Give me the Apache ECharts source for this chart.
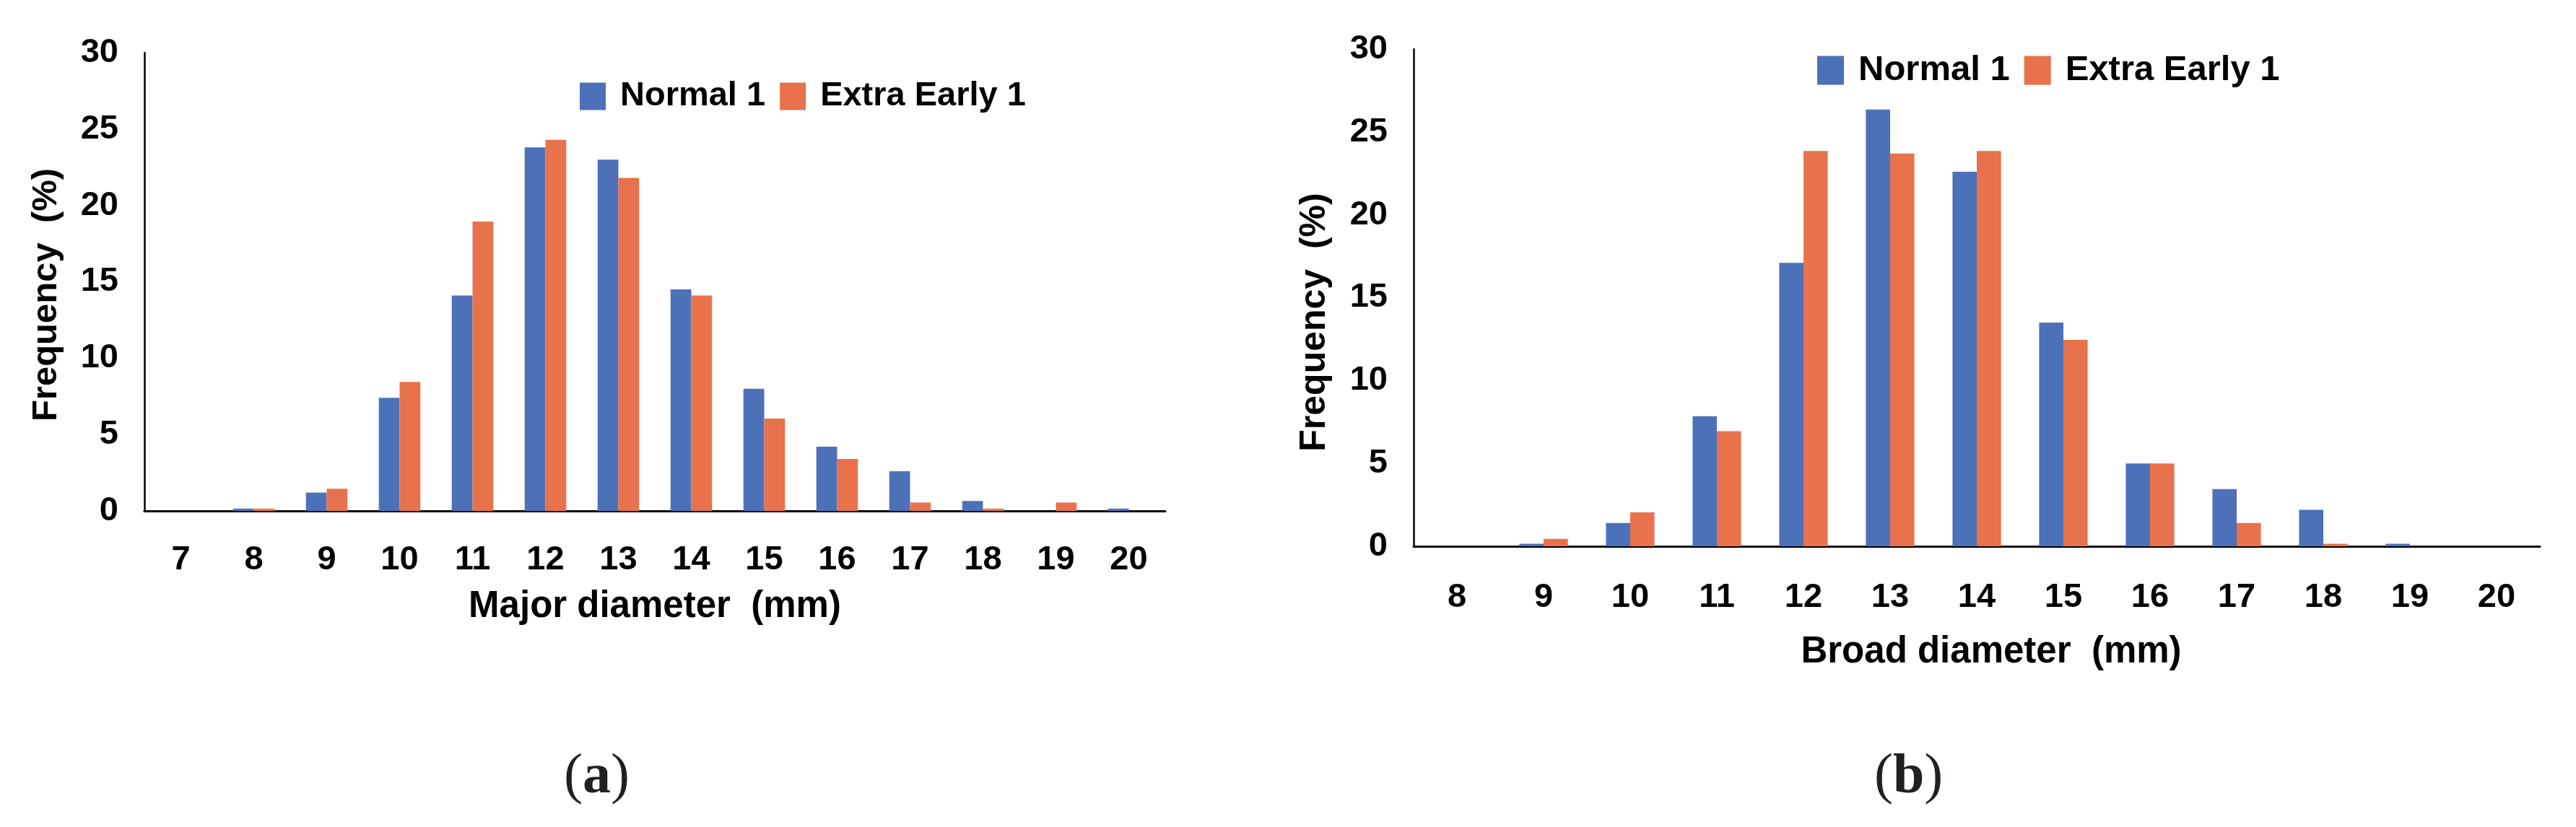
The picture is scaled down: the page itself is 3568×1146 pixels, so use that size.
<!DOCTYPE html>
<html>
<head>
<meta charset="utf-8">
<script src="https://cdn.jsdelivr.net/npm/echarts@6/dist/echarts.min.js"></script>
<style>
html, body { margin: 0; padding: 0; background: #fff; }
#chart { width: 3568px; height: 1146px; }
</style>
</head>
<body>
<div id="chart"></div>
<script>
// Panel (a): Major diameter
const categoriesA = ['7', '8', '9', '10', '11', '12', '13', '14', '15', '16', '17', '18', '19', '20'];
const normalA = [0, 0.15, 1.2, 7.4, 14.1, 23.8, 23.0, 14.5, 8.0, 4.2, 2.6, 0.65, 0, 0.15];
const earlyA  = [0, 0.15, 1.45, 8.45, 18.95, 24.3, 21.8, 14.1, 6.05, 3.4, 0.55, 0.15, 0.55, 0];

// Panel (b): Broad diameter
const categoriesB = ['8', '9', '10', '11', '12', '13', '14', '15', '16', '17', '18', '19', '20'];
const normalB = [0, 0.15, 1.4, 7.85, 17.1, 26.35, 22.6, 13.5, 5.0, 3.45, 2.2, 0.15, 0];
const earlyB  = [0, 0.45, 2.05, 6.95, 23.85, 23.7, 23.85, 12.45, 5.0, 1.4, 0.15, 0, 0];

const seriesNames = ['Normal 1', 'Extra Early 1'];
const xNames = ['Major diameter  (mm)', 'Broad diameter  (mm)'];
const yName = 'Frequency  (%)';
const captions = ['a', 'b'];

const BLUE = '#4D71B8';
const ORANGE = '#E8724C';
const FONT = '"Liberation Sans", Arial, sans-serif';

const chart = echarts.init(document.getElementById('chart'), null, { renderer: 'canvas' });

function xAxisCfg(idx, cats, name, labelMargin, nameGap, namePad) {
  return {
    type: 'category', gridIndex: idx, data: cats,
    name: name, nameLocation: 'middle', nameGap: nameGap,
    nameTextStyle: { fontFamily: FONT, fontWeight: 'bold', fontSize: 51, color: '#000', padding: namePad },
    axisLine: { show: true, lineStyle: { color: '#000', width: 3 } },
    axisTick: { show: false },
    axisLabel: { fontFamily: FONT, fontWeight: 'bold', fontSize: 47, color: '#000', margin: labelMargin, interval: 0 },
    splitLine: { show: false }
  };
}
function yAxisCfg(idx, nameGap, nameSize, namePad) {
  return {
    type: 'value', gridIndex: idx, min: 0, max: 30, interval: 5,
    name: yName, nameLocation: 'middle', nameGap: nameGap, nameRotate: 90,
    nameTextStyle: { fontFamily: FONT, fontWeight: 'bold', fontSize: nameSize, color: '#000', padding: namePad },
    axisLine: { show: true, lineStyle: { color: '#000', width: 2.5 } },
    axisTick: { show: false },
    axisLabel: { fontFamily: FONT, fontWeight: 'bold', fontSize: 47, color: '#000', margin: 36 },
    splitLine: { show: false }
  };
}

const option = {
  backgroundColor: '#fff',
  animation: false,
  color: [BLUE, ORANGE],
  grid: [
    { left: 200, top: 73, width: 1414, height: 635 },
    { left: 1958, top: 68, width: 1560, height: 689 }
  ],
  legend: [
    {
      data: seriesNames, left: 798, top: 105, orient: 'horizontal',
      itemWidth: 36, itemHeight: 38, itemGap: 20, icon: 'rect',
      textStyle: { fontFamily: FONT, fontWeight: 'bold', fontSize: 47, color: '#000', padding: [0, 0, 0, 15] }
    },
    {
      data: seriesNames, left: 2512, top: 68, orient: 'horizontal',
      itemWidth: 37, itemHeight: 40, itemGap: 20, icon: 'rect',
      textStyle: { fontFamily: FONT, fontWeight: 'bold', fontSize: 49, color: '#000', padding: [0, 0, 0, 15] }
    }
  ],
  xAxis: [
    xAxisCfg(0, categoriesA, xNames[0], 45, 107, [0, 0, 0, 0]),
    xAxisCfg(1, categoriesB, xNames[1], 48, 121, [0, 0, 0, 40])
  ],
  yAxis: [
    yAxisCfg(0, 111, 49, [0, 36, 0, 0]),
    yAxisCfg(1, 112, 50, [0, 68, 0, 0])
  ],
  series: [
    { name: seriesNames[0], type: 'bar', xAxisIndex: 0, yAxisIndex: 0, data: normalA,
      itemStyle: { color: BLUE }, barGap: '0%', barCategoryGap: '43%' },
    { name: seriesNames[1], type: 'bar', xAxisIndex: 0, yAxisIndex: 0, data: earlyA,
      itemStyle: { color: ORANGE }, barGap: '0%', barCategoryGap: '43%' },
    { name: seriesNames[0], type: 'bar', xAxisIndex: 1, yAxisIndex: 1, data: normalB,
      itemStyle: { color: BLUE }, barGap: '0%', barCategoryGap: '44%' },
    { name: seriesNames[1], type: 'bar', xAxisIndex: 1, yAxisIndex: 1, data: earlyB,
      itemStyle: { color: ORANGE }, barGap: '0%', barCategoryGap: '44%' }
  ],
  graphic: [
    {
      type: 'text', left: 825 - 44, top: 1081 - 42,
      style: {
        text: '({b|' + captions[0] + '})',
        rich: { b: { fontFamily: '"Liberation Serif", "Times New Roman", serif', fontWeight: 'bold', fontSize: 78, fill: '#231f20' } },
        fontFamily: '"Liberation Serif", "Times New Roman", serif', fontSize: 78, fill: '#231f20'
      }
    },
    {
      type: 'text', left: 2642 - 46, top: 1081 - 42,
      style: {
        text: '({b|' + captions[1] + '})',
        rich: { b: { fontFamily: '"Liberation Serif", "Times New Roman", serif', fontWeight: 'bold', fontSize: 78, fill: '#231f20' } },
        fontFamily: '"Liberation Serif", "Times New Roman", serif', fontSize: 78, fill: '#231f20'
      }
    }
  ]
};
chart.setOption(option);
</script>
</body>
</html>
